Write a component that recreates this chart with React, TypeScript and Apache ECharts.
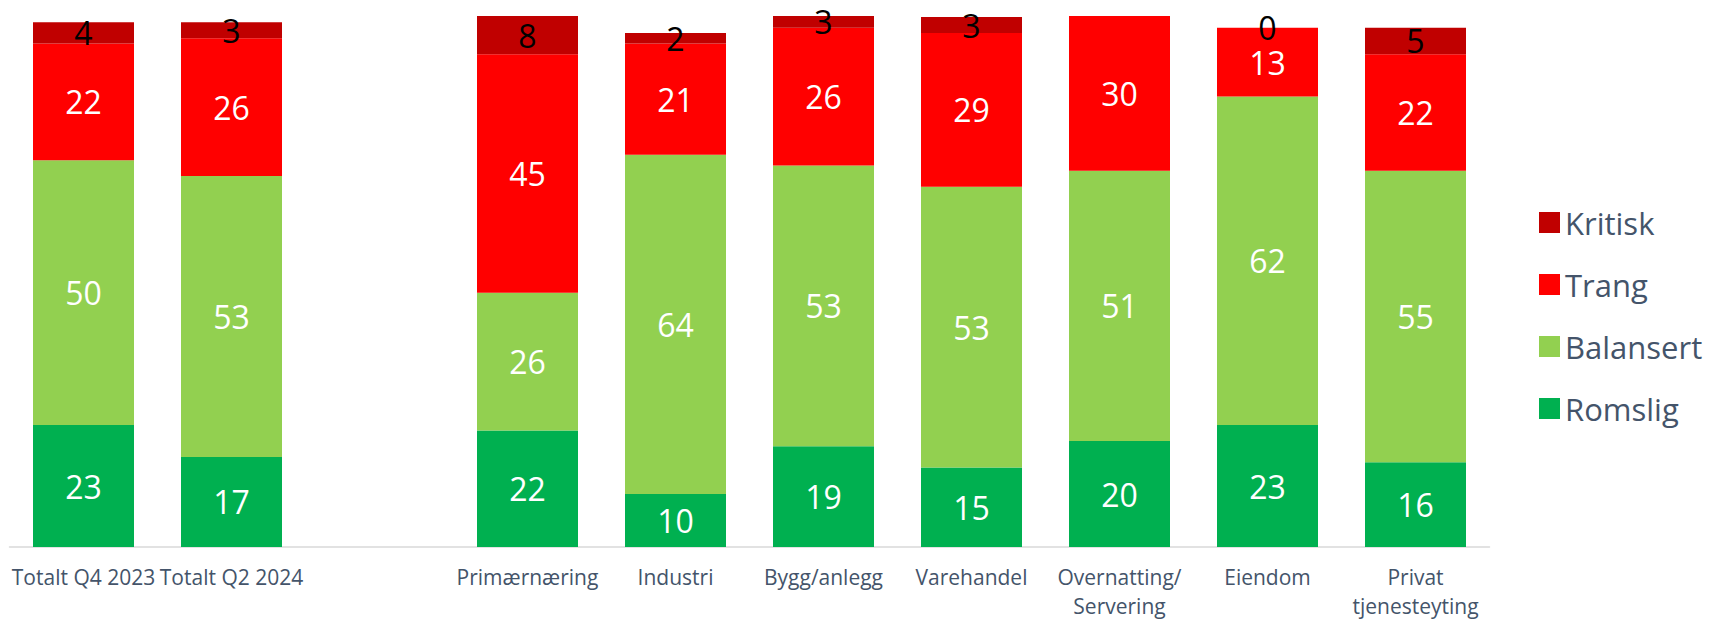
import React, { useEffect, useRef } from "react";
import * as echarts from "echarts";

const categories = [
  "Totalt Q4 2023",
  "Totalt Q2 2024",
  "",
  "Primærnæring",
  "Industri",
  "Bygg/anlegg",
  "Varehandel",
  "Overnatting/\nServering",
  "Eiendom",
  "Privat\ntjenesteyting",
];

const romslig = [23, 17, null, 22, 10, 19, 15, 20, 23, 16];
const balansert = [50, 53, null, 26, 64, 53, 53, 51, 62, 55];
const trang = [22, 26, null, 45, 21, 26, 29, 30, 13, 22];
const kritisk = [4, 3, null, 8, 2, 3, 3, null, 0, 5];

const seriesNames = ["Romslig", "Balansert", "Trang", "Kritisk"];
const legendOrder = ["Kritisk", "Trang", "Balansert", "Romslig"];
const colors = ["#00B050", "#92D050", "#FF0000", "#C00000"];
const labelColors = ["#FFFFFF", "#FFFFFF", "#FFFFFF", "#000000"];

const FONT = "'Open Sans', 'Noto Sans', sans-serif";

export default function App() {
  const ref = useRef<HTMLDivElement>(null);

  useEffect(() => {
    if (!ref.current) return;
    const chart = echarts.init(ref.current, null, { renderer: "svg" });
    const dataSets = [romslig, balansert, trang, kritisk];
    chart.setOption({
      animation: false,
      backgroundColor: "#FFFFFF",
      textStyle: { fontFamily: FONT },
      grid: {
        left: 9.5,
        right: 219.5,
        top: 16,
        bottom: 73,
        containLabel: false,
        outerBoundsMode: "none",
      },
      legend: {
        data: legendOrder,
        orient: "vertical",
        left: 1534,
        top: 202,
        itemWidth: 21,
        itemHeight: 21,
        itemGap: 31,
        icon: "rect",
        textStyle: {
          fontFamily: FONT,
          fontSize: 31,
          color: "#44546A",
          lineHeight: 30,
        },
      },
      xAxis: {
        type: "category",
        data: categories,
        axisTick: { show: false },
        axisLine: { lineStyle: { color: "#D9D9D9", width: 1.5 } },
        axisLabel: {
          interval: 0,
          fontFamily: FONT,
          fontSize: 21,
          lineHeight: 29,
          color: "#44546A",
          margin: 15,
        },
      },
      yAxis: {
        type: "value",
        min: 0,
        max: 100.2,
        show: false,
        splitLine: { show: false },
      },
      series: seriesNames.map((name, i) => ({
        name,
        type: "bar",
        stack: "total",
        barWidth: 101,
        clip: true,
        data: dataSets[i],
        itemStyle: { color: colors[i] },
        label: {
          show: true,
          position: "inside",
          fontFamily: FONT,
          fontSize: 32,
          color: labelColors[i],
          textBorderWidth: 0,
        },
      })),
    });
    return () => chart.dispose();
  }, []);

  return (
    <div
      ref={ref}
      style={{ position: "fixed", left: 0, top: 0, width: 1709, height: 620 }}
    />
  );
}
